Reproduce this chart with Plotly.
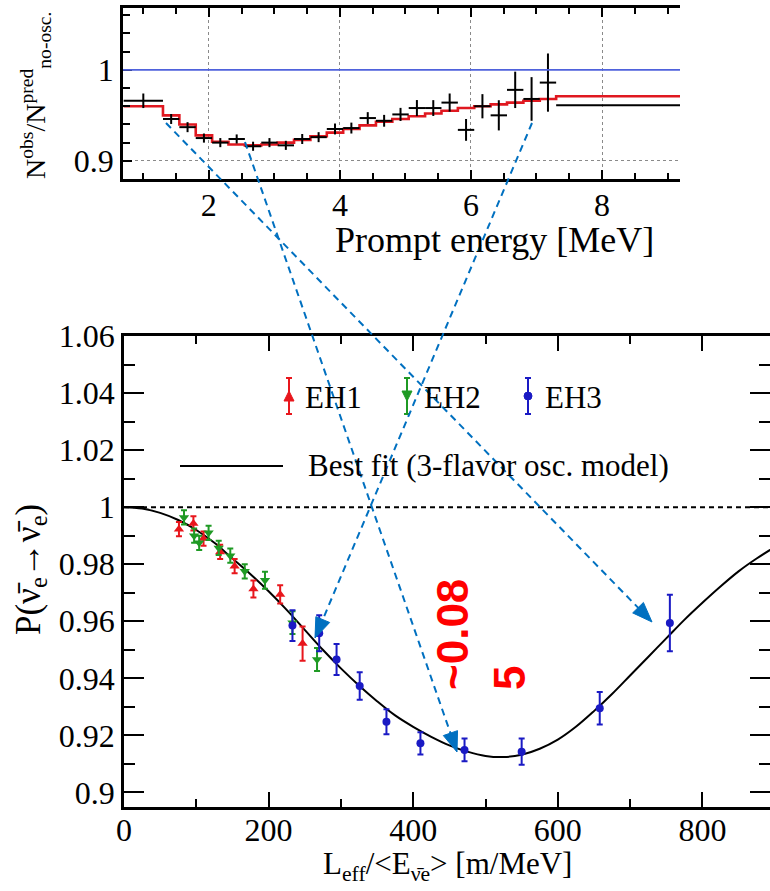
import plotly.graph_objects as go

W, H = 770, 891

# ---------------- upper panel: observed / predicted (no oscillation) ----------------
energy_centers = [1.0, 1.425, 1.675, 1.925, 2.175, 2.425, 2.675, 2.925, 3.175, 3.425,
                  3.675, 3.925, 4.175, 4.425, 4.675, 4.925, 5.175, 5.425, 5.675, 5.925,
                  6.175, 6.425, 6.675, 6.925, 7.175, 9.65]
energy_halfwidth = [0.3] + [0.125] * 24 + [2.35]
ratio_obs = [0.966, 0.946, 0.937, 0.925, 0.920, 0.924, 0.916, 0.920, 0.917, 0.924,
             0.926, 0.935, 0.936, 0.947, 0.944, 0.951, 0.958, 0.958, 0.964, 0.934,
             0.960, 0.950, 0.978, 0.968, 0.986, 0.961]
ratio_err = [0.008, 0.0055, 0.0055, 0.005, 0.005, 0.005, 0.005, 0.005, 0.005, 0.0055,
             0.0055, 0.006, 0.006, 0.0065, 0.0065, 0.0072, 0.0088, 0.0087, 0.010, 0.012,
             0.0133, 0.0166, 0.020, 0.024, 0.032, 0.03]

pred_edges = [0.7, 1.3, 1.55, 1.8, 2.05, 2.3, 2.55, 2.8, 3.05, 3.3, 3.55, 3.8, 4.05,
              4.3, 4.55, 4.8, 5.05, 5.3, 5.55, 5.8, 6.05, 6.3, 6.55, 6.8, 7.05, 7.3, 12.0]
pred_ratio = [0.960, 0.950, 0.940, 0.928, 0.921, 0.918, 0.917, 0.918, 0.920, 0.923,
              0.927, 0.931, 0.935, 0.939, 0.943, 0.946, 0.949, 0.952, 0.955, 0.958,
              0.960, 0.962, 0.964, 0.966, 0.968, 0.971]

# ---------------- lower panel: survival probability vs L/E ----------------
eh1_L = [76, 96, 110, 133, 153, 179, 216, 247]
eh1_P = [0.9923, 0.9943, 0.9890, 0.9843, 0.9793, 0.9713, 0.9694, 0.9522]
eh1_err = [0.0025, 0.0025, 0.0025, 0.0025, 0.0025, 0.003, 0.0032, 0.006]

eh2_L = [83, 97, 104, 117, 131, 147, 167, 195, 233, 267]
eh2_P = [0.9964, 0.9900, 0.9875, 0.9910, 0.9857, 0.9830, 0.9775, 0.9744, 0.9595, 0.9466]
eh2_err = [0.0025, 0.0025, 0.0025, 0.0025, 0.0025, 0.0025, 0.0025, 0.003, 0.004, 0.004]

eh3_L = [233, 270, 294, 326, 363, 410, 471, 550, 658, 755]
eh3_P = [0.9585, 0.9558, 0.9466, 0.9373, 0.9248, 0.9172, 0.9149, 0.9143, 0.9295, 0.9594]
eh3_err = [0.0054, 0.0063, 0.0054, 0.0048, 0.0044, 0.0039, 0.004, 0.0046, 0.0057, 0.0099]

fit_L = [0, 25, 50, 75, 100, 125, 150, 175, 200, 225, 250, 275, 300, 325, 350, 375,
         400, 425, 450, 475, 500, 525, 550, 575, 600, 625, 650, 675, 700, 725, 750,
         775, 800, 825, 850, 875, 900]
fit_P = [1.000, 0.9995, 0.998, 0.9955, 0.992, 0.9875, 0.982, 0.9765, 0.9705, 0.964,
         0.957, 0.950, 0.9435, 0.9375, 0.932, 0.927, 0.923, 0.9195, 0.9165, 0.9143,
         0.9128, 0.9124, 0.9132, 0.9153, 0.9185, 0.923, 0.9285, 0.9345, 0.941, 0.9475,
         0.954, 0.9605, 0.9665, 0.9722, 0.9775, 0.982, 0.986]

RED, GREEN, BLUE = "#e8161c", "#1f9a24", "#1a1ac4"
ARROW = "#0070C0"
SERIF = "Liberation Serif"


def px(x):
    return x / W


def py(y):
    return 1 - y / H


fig = go.Figure()

# predicted spectrum ratio (step line)
fig.add_trace(go.Scatter(
    x=pred_edges, y=pred_ratio + [pred_ratio[-1]], mode="lines",
    line=dict(color="#e01820", width=2.6, shape="hv"),
    xaxis="x", yaxis="y", showlegend=False, hoverinfo="skip"))

# observed ratio with error crosses
fig.add_trace(go.Scatter(
    x=energy_centers, y=ratio_obs, mode="markers",
    marker=dict(size=1, color="black"),
    error_x=dict(type="data", array=energy_halfwidth, width=0, thickness=2, color="black"),
    error_y=dict(type="data", array=ratio_err, width=0, thickness=2, color="black"),
    xaxis="x", yaxis="y", showlegend=False))

# best-fit curve
fig.add_trace(go.Scatter(
    x=fit_L, y=fit_P, mode="lines", line=dict(color="black", width=2, shape="spline"),
    xaxis="x2", yaxis="y2", showlegend=False, hoverinfo="skip"))

for L, P, err, col, sym, size in [
        (eh1_L, eh1_P, eh1_err, RED, "triangle-up", 9),
        (eh2_L, eh2_P, eh2_err, GREEN, "triangle-down", 9),
        (eh3_L, eh3_P, eh3_err, BLUE, "circle", 8)]:
    fig.add_trace(go.Scatter(
        x=L, y=P, mode="markers",
        marker=dict(symbol=sym, size=size, color=col, line=dict(width=0)),
        error_y=dict(type="data", array=err, width=3, thickness=2, color=col),
        xaxis="x2", yaxis="y2", showlegend=False))

axis_common = dict(showline=True, linecolor="black", ticks="inside", tickcolor="black",
                   zeroline=False, automargin=False,
                   tickfont=dict(family=SERIF, size=32, color="black"))

fig.update_layout(
    width=W, height=H, template="none",
    font=dict(family=SERIF, color="black"),
    margin=dict(l=0, r=0, t=0, b=0),
    paper_bgcolor="white", plot_bgcolor="rgba(0,0,0,0)",
    xaxis=dict(axis_common, domain=[px(123), px(680)], range=[0.69, 9.19], anchor="y",
               tick0=0, dtick=2, ticklen=9, tickwidth=2, linewidth=2.5, mirror="ticks",
               minor=dict(dtick=0.5, ticklen=6, tickwidth=1.5, ticks="inside", tickcolor="black"),
               showgrid=True, gridcolor="#8a8a8a", griddash="dot", gridwidth=1,
               ticklabelstandoff=-4),
    yaxis=dict(axis_common, domain=[py(179), py(8)], range=[0.88, 1.068], anchor="x",
               tick0=0.9, dtick=0.1, ticklen=9, tickwidth=2, linewidth=2.5, mirror=False,
               minor=dict(dtick=0.02, ticklen=7, tickwidth=1.5, ticks="inside", tickcolor="black"),
               showgrid=True, gridcolor="#8a8a8a", griddash="dot", gridwidth=1,
               ticklabelstandoff=0),
    xaxis2=dict(axis_common, domain=[px(124), 1.0], range=[0, 893.5], anchor="y2",
                tick0=0, dtick=200, ticklen=15, tickwidth=2, linewidth=2.5, mirror="ticks",
                minor=dict(dtick=100, ticklen=8, tickwidth=2, ticks="inside", tickcolor="black"),
                showgrid=False, ticklabelstandoff=-7),
    yaxis2=dict(axis_common, domain=[py(806.7), py(336)], range=[0.895, 1.06], anchor="x2",
                tick0=0.9, dtick=0.02, ticklen=20, tickwidth=2, linewidth=2.5, mirror="ticks",
                minor=dict(dtick=0.01, ticklen=11, tickwidth=2, ticks="inside", tickcolor="black"),
                showgrid=False, ticklabelstandoff=0),
)

shapes = [
    # no-oscillation reference in the upper panel
    dict(type="line", xref="x domain", yref="y", x0=0, x1=1, y0=1, y1=1,
         line=dict(color="#4f62dc", width=1.6), layer="above"),
    # P = 1 reference in the lower panel
    dict(type="line", xref="x2 domain", yref="y2", x0=0, x1=1, y0=1, y1=1,
         line=dict(color="black", width=2, dash="5px,4px"), layer="below"),
]

# legend keys of the lower panel
legend_keys = [(289, RED, "up"), (407, GREEN, "down"), (528, BLUE, "dot")]
for kx, col, kind in legend_keys:
    shapes.append(dict(type="line", xref="paper", yref="paper", x0=px(kx), x1=px(kx),
                       y0=py(378), y1=py(414), line=dict(color=col, width=2)))
    for cy in (378, 414):
        shapes.append(dict(type="line", xref="paper", yref="paper", x0=px(kx - 3), x1=px(kx + 3),
                           y0=py(cy), y1=py(cy), line=dict(color=col, width=2)))
    if kind == "up":
        path = f"M{px(kx - 5)},{py(401)} L{px(kx + 5)},{py(401)} L{px(kx)},{py(391)} Z"
        shapes.append(dict(type="path", xref="paper", yref="paper", path=path,
                           fillcolor=col, line=dict(color=col, width=1)))
    elif kind == "down":
        path = f"M{px(kx - 5)},{py(391)} L{px(kx + 5)},{py(391)} L{px(kx)},{py(401)} Z"
        shapes.append(dict(type="path", xref="paper", yref="paper", path=path,
                           fillcolor=col, line=dict(color=col, width=1)))
    else:
        shapes.append(dict(type="circle", xref="paper", yref="paper",
                           x0=px(kx - 4), x1=px(kx + 4), y0=py(392), y1=py(400),
                           fillcolor=col, line=dict(color=col, width=1)))
shapes.append(dict(type="line", xref="paper", yref="paper", x0=px(180), x1=px(283),
                   y0=py(466), y1=py(466), line=dict(color="black", width=2)))

# dashed connectors from spectrum bins to L/E points, each ending in a filled head
connectors = [((166, 123), (652, 622)), ((245, 142), (457, 752)), ((532, 123), (315, 638))]
HEAD_LEN, HEAD_HALF = 20, 7.5
for (x0, y0), (x1, y1) in connectors:
    dx, dy = x1 - x0, y1 - y0
    n = (dx * dx + dy * dy) ** 0.5
    ux, uy = dx / n, dy / n
    bx, by = x1 - HEAD_LEN * ux, y1 - HEAD_LEN * uy
    shapes.append(dict(type="line", xref="paper", yref="paper",
                       x0=px(x0), y0=py(y0), x1=px(bx + 2 * ux), y1=py(by + 2 * uy),
                       line=dict(color=ARROW, width=2, dash="7px,5px"), layer="above"))
    c1 = (bx - HEAD_HALF * uy, by + HEAD_HALF * ux)
    c2 = (bx + HEAD_HALF * uy, by - HEAD_HALF * ux)
    head = (f"M{px(x1)},{py(y1)} L{px(c1[0])},{py(c1[1])} "
            f"L{px(c2[0])},{py(c2[1])} Z")
    shapes.append(dict(type="path", xref="paper", yref="paper", path=head,
                       fillcolor=ARROW, line=dict(color=ARROW, width=1), layer="above"))

fig.update_layout(shapes=shapes)

annotations = []


def label(x, y, text, size, angle=0, xanchor="center", color="black", family=SERIF):
    annotations.append(dict(x=px(x), y=py(y), xref="paper", yref="paper", text=text,
                            showarrow=False, textangle=angle, xanchor=xanchor, yanchor="middle",
                            font=dict(family=family, size=size, color=color)))


nu = "\u03bd\u0304"
label(36, 96, "N<sup>obs</sup>/N<sup>pred</sup><sub>no-osc.</sub>", 28, angle=-90)
label(494, 240, "Prompt energy [MeV]", 36)
label(30, 570, f"P({nu}<sub>e</sub>\u2192{nu}<sub>e</sub>)", 35, angle=-90)
label(447, 866, f"L<sub>eff</sub>/&lt;E<sub>{nu}e</sub>&gt; [m/MeV]", 31)
label(303, 397, "EH1", 31, xanchor="left")
label(422, 397, "EH2", 31, xanchor="left")
label(543, 397, "EH3", 31, xanchor="left")
label(306, 466, "Best fit (3-flavor osc. model)", 31, xanchor="left")

annotations.append(dict(x=px(481), y=py(635), xref="paper", yref="paper",
                        text="<b>~0.08<br>5</b>", showarrow=False, textangle=-90, align="left",
                        xanchor="center", yanchor="middle",
                        font=dict(family="Liberation Sans", size=44, color="#ff0000")))

fig.update_layout(annotations=annotations)

fig.write_html("out.html")
